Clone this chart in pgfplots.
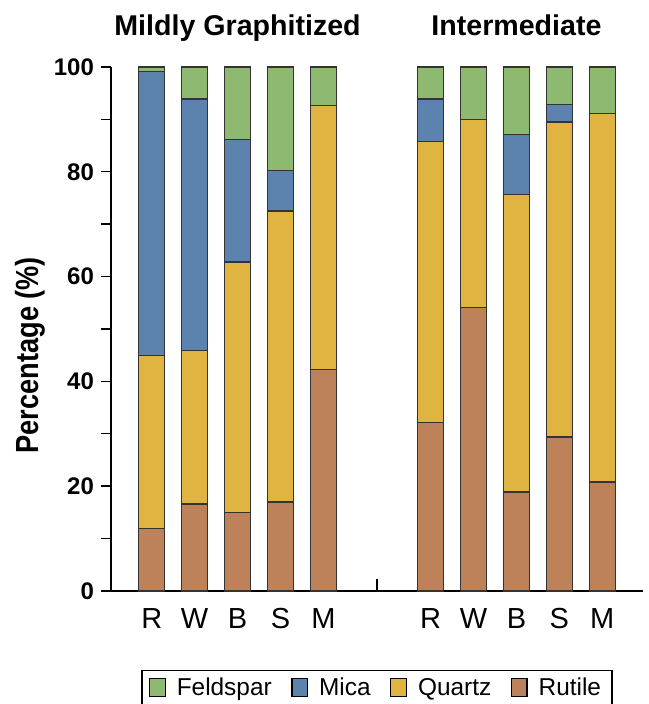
\documentclass[border=0pt]{standalone}
\usepackage{pgfplots}
\pgfplotsset{compat=1.18}
\usepackage{fontspec}
\setmainfont{Liberation Sans}
\newfontfamily\ylabfont[FakeStretch=0.85]{Liberation Sans}
\definecolor{feld}{RGB}{141,185,112}
\definecolor{mica}{RGB}{92,131,173}
\definecolor{quartz}{RGB}{224,180,64}
\definecolor{rutile}{RGB}{190,130,90}
\begin{document}
\begin{tikzpicture}
\begin{axis}[name=ax, scale only axis, width=266pt, height=262pt,
  clip=false,
  ybar stacked, bar width=0.6,
  xmin=-0.95, xmax=11.45, ymin=0, ymax=100,
  axis lines*=left,
  axis line style={draw=black, line width=0.7pt},
  xtick={0,1,2,3,4,6.5,7.5,8.5,9.5,10.5},
  xticklabels={R,W,B,S,M,R,W,B,S,M},
  xtick style={draw=none},
  ytick={0,20,...,100}, minor ytick={10,30,50,70,90},
  tick align=outside, major tick length=5pt, minor tick length=5pt,
  /pgf/number format/assume math mode=true,
  y tick label style={font=\bfseries\fontsize{12}{14}\selectfont},
  x tick label style={font=\fontsize{14.5}{16}\selectfont},
  ylabel={Percentage (\%)},
  ylabel style={font=\ylabfont\bfseries\fontsize{16}{18}\selectfont, at={(axis description cs:-0.152,0.45)}, anchor=center},
  ytick style={line width=0.7pt, draw=black},
  every axis plot/.append style={draw=black!80, line width=0.6pt},
  legend style={at={(axis description cs:0.5,-0.151)}, anchor=north, draw=black, line width=0.6pt,
    font=\fontsize{12.2}{14}\selectfont, inner xsep=3.5pt, inner ysep=1.5pt,
    /tikz/every odd column/.append style={column sep=3.5pt},
    /tikz/every even column/.append style={column sep=7.8pt}},
  legend columns=4, reverse legend,
  legend image code/.code={\draw[#1, draw=black, line width=0.6pt] (0pt,-4.2pt) rectangle (7.8pt,4.6pt);},
]
% Rutile
\addplot[fill=rutile] coordinates {(0,12.0) (1,16.6) (2,15.0) (3,17.0) (4,42.3) (6.5,32.2) (7.5,54.1) (8.5,18.9) (9.5,29.4) (10.5,20.8)};
\addlegendentry{Rutile}
% Quartz
\addplot[fill=quartz] coordinates {(0,32.9) (1,29.3) (2,47.8) (3,55.5) (4,50.3) (6.5,53.6) (7.5,35.9) (8.5,56.8) (9.5,60.1) (10.5,70.4)};
\addlegendentry{Quartz}
% Mica
\addplot[fill=mica] coordinates {(0,54.3) (1,48.0) (2,23.3) (3,7.8) (4,0) (6.5,8.1) (7.5,0) (8.5,11.4) (9.5,3.3) (10.5,0)};
\addlegendentry{Mica}
% Feldspar
\addplot[fill=feld] coordinates {(0,0.8) (1,6.1) (2,13.9) (3,19.7) (4,7.4) (6.5,6.1) (7.5,10.0) (8.5,12.9) (9.5,7.2) (10.5,8.8)};
\addlegendentry{Feldspar}
\draw[line width=0.7pt, black] (axis cs:5.25,0) -- (axis cs:5.25,2.3);
\node[font=\bfseries\fontsize{14.3}{16}\selectfont, anchor=base, yshift=15.5pt] at (axis cs:2,100) {Mildly Graphitized};
\node[font=\bfseries\fontsize{14.3}{16}\selectfont, anchor=base, yshift=15.5pt] at (axis cs:8.5,100) {Intermediate};
\end{axis}
\pgfresetboundingbox
\path[use as bounding box] ([xshift=-55.5pt,yshift=-56.5pt]ax.south west) rectangle ([xshift=268.5pt,yshift=33.5pt]ax.north west);
\end{tikzpicture}
\end{document}
